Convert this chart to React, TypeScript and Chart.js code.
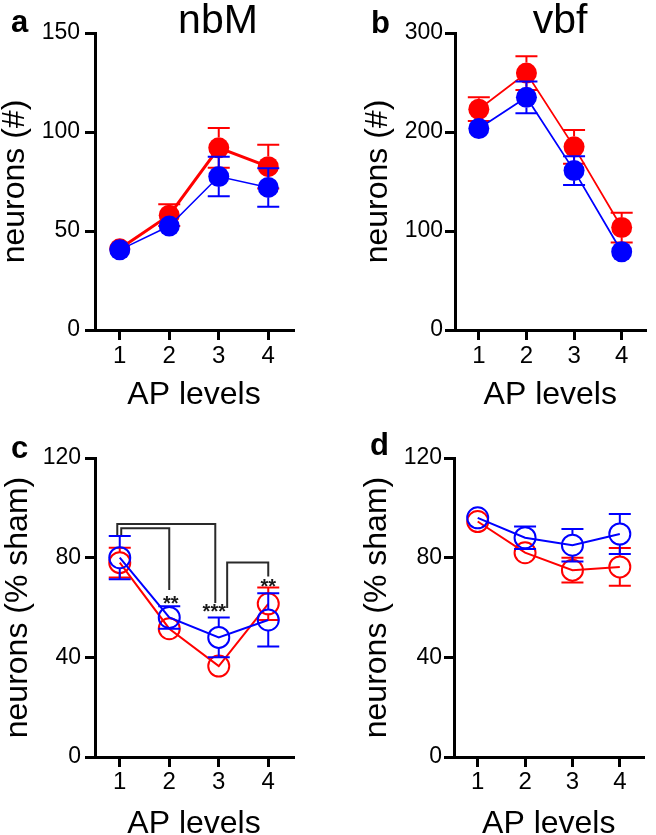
import React, { useEffect, useRef } from 'react';
import { Chart, registerables } from 'chart.js';

Chart.register(...registerables);

// ---------- data ----------
const apLevels = [1, 2, 3, 4];

// panel a: nbM, neuron counts
const nbmRed = [41, 58, 92, 82.5];
const nbmRedSem = [2, 5.5, 10, 11];
const nbmBlue = [40.5, 52.5, 77.5, 72];
const nbmBlueSem = [2, 3, 10, 9.7];

// panel b: vbf, neuron counts
const vbfRed = [223, 259.5, 185, 103.5];
const vbfRedSem = [12, 17, 17, 15];
const vbfBlue = [203.5, 235, 161, 79];
const vbfBlueSem = [4, 16, 14.5, 4];

// panel c: nbM, % sham
const nbmPctRed = [78, 51.5, 36.5, 61.5];
const nbmPctRedSem = [6, 3, 3, 6.5];
const nbmPctBlue = [80, 56, 48, 55];
const nbmPctBlueSem = [8.7, 4.5, 8, 10.7];

// panel d: vbf, % sham
const vbfPctRed = [94.5, 82, 75, 76.3];
const vbfPctRedSem = [2, 3, 5, 7.6];
const vbfPctBlue = [96, 88, 85, 89.5];
const vbfPctBlueSem = [2, 4.5, 6.5, 8];

// significance brackets for panel c (AP level, % sham)
const bracket13 = [[0.95, 89.1], [0.95, 93.5], [2.93, 93.5], [2.93, 61.8]];
const bracket12 = [[1.03, 89.1], [1.03, 91.8], [2.0, 91.8], [2.0, 67]];
const bracket34 = [[3.17, 59.8], [3.17, 78.1], [4.0, 78.1], [4.0, 72.4]];
const starLabels = ['**', '***', '**'];
const starX = [2.03, 2.91, 4.0];
const starY = [63.8, 60.3, 70.4];

// ---------- styles ----------
const FONT = '"Liberation Sans", Arial, Helvetica, sans-serif';
const RED = '#ff0000';
const BLUE = '#0000ff';

const errorBarPlugin = {
  id: 'errorBars',
  beforeDatasetDraw(chart: any, args: any) {
    const ds: any = chart.data.datasets[args.index];
    const errs = ds.errors;
    if (!errs) return;
    const yScale = chart.scales.y;
    const ctx = chart.ctx;
    const cap = 11;
    const gap = ds.pointRadius;
    ctx.save();
    ctx.strokeStyle = ds.borderColor;
    ctx.lineWidth = 2;
    args.meta.data.forEach((el: any, i: number) => {
      const v = ds.data[i].y;
      const e = errs[i];
      const x = el.x;
      const yc = yScale.getPixelForValue(v);
      const yt = yScale.getPixelForValue(v + e);
      const yb = yScale.getPixelForValue(v - e);
      ctx.beginPath();
      if (yc - yt > gap) {
        ctx.moveTo(x, yc - gap);
        ctx.lineTo(x, yt);
        ctx.moveTo(x - cap, yt);
        ctx.lineTo(x + cap, yt);
      }
      if (yb - yc > gap) {
        ctx.moveTo(x, yc + gap);
        ctx.lineTo(x, yb);
        ctx.moveTo(x - cap, yb);
        ctx.lineTo(x + cap, yb);
      }
      ctx.stroke();
    });
    ctx.restore();
  },
};

const sigPlugin = {
  id: 'sigMarks',
  afterDatasetsDraw(chart: any, _args: any, opts: any) {
    if (!opts || !opts.brackets) return;
    const xs = chart.scales.x;
    const ys = chart.scales.y;
    const ctx = chart.ctx;
    ctx.save();
    ctx.strokeStyle = '#2a2a2a';
    ctx.lineWidth = 2;
    opts.brackets.forEach((pts: number[][]) => {
      ctx.beginPath();
      pts.forEach((p, i) => {
        const px = xs.getPixelForValue(p[0]);
        const py = ys.getPixelForValue(p[1]);
        if (i === 0) ctx.moveTo(px, py);
        else ctx.lineTo(px, py);
      });
      ctx.stroke();
    });
    ctx.fillStyle = '#1a1a1a';
    ctx.font = `bold 20px ${FONT}`;
    ctx.textAlign = 'center';
    ctx.textBaseline = 'alphabetic';
    opts.labels.forEach((t: string, i: number) => {
      ctx.fillText(t, xs.getPixelForValue(opts.xs[i]), ys.getPixelForValue(opts.ys[i]) + 11.5);
    });
    ctx.restore();
  },
};

const labelPlugin = {
  id: 'panelLabels',
  afterDraw(chart: any, _args: any, opts: any) {
    const ctx = chart.ctx;
    ctx.save();
    ctx.fillStyle = '#000';
    ctx.textBaseline = 'alphabetic';
    ctx.textAlign = 'left';
    ctx.font = `bold 31px ${FONT}`;
    ctx.fillText(opts.letter, opts.letterX, opts.letterY);
    if (opts.title) {
      ctx.textAlign = 'center';
      ctx.font = `41px ${FONT}`;
      ctx.fillText(opts.title, opts.titleX, opts.titleY);
    }
    ctx.restore();
  },
};

function series(values: number[], errs: number[], color: string, lineW: number, filled: boolean) {
  return {
    data: apLevels.map((x, i) => ({ x, y: values[i] })),
    errors: errs,
    borderColor: color,
    backgroundColor: color,
    borderWidth: lineW,
    pointRadius: filled ? 10.5 : 10.5,
    pointHoverRadius: 10.5,
    pointBackgroundColor: filled ? color : 'rgba(0,0,0,0)',
    pointBorderColor: color,
    pointBorderWidth: filled ? 0 : 2,
    tension: 0,
    fill: false,
  };
}

function buildConfig(p: any): any {
  return {
    type: 'line',
    data: {
      datasets: [
        series(p.blue, p.blueErr, BLUE, p.blueLine, p.filled),
        series(p.red, p.redErr, RED, p.redLine, p.filled),
      ],
    },
    options: {
      responsive: false,
      animation: false,
      devicePixelRatio: 1,
      events: [],
      layout: { padding: { left: 0, top: p.padTop, right: p.padRight, bottom: 0 } },
      plugins: {
        legend: { display: false },
        tooltip: { enabled: false },
        panelLabels: p.labels,
        sigMarks: p.sig || {},
      },
      scales: {
        x: {
          type: 'linear',
          min: 0.5,
          max: 4.5,
          afterBuildTicks: (s: any) => {
            s.ticks = apLevels.map((v) => ({ value: v }));
          },
          afterFit: (s: any) => {
            s.height = p.xAxisH;
          },
          grid: { drawOnChartArea: false, drawTicks: true, tickLength: 10, color: '#000', lineWidth: 3 },
          border: { display: true, color: '#000', width: 3 },
          ticks: { font: { family: FONT, size: 24 }, color: '#000', padding: p.xTickPad, maxRotation: 0, autoSkip: false },
          title: {
            display: true,
            text: 'AP levels',
            color: '#000',
            font: { family: FONT, size: 32, lineHeight: 1 },
            padding: { top: 0, bottom: p.xTitlePad },
          },
        },
        y: {
          min: 0,
          max: p.yMax,
          afterFit: (s: any) => {
            s.width = p.yAxisW;
          },
          grid: { drawOnChartArea: false, drawTicks: true, tickLength: 10, color: '#000', lineWidth: 3 },
          border: { display: true, color: '#000', width: 3 },
          ticks: { stepSize: p.yStep, font: { family: FONT, size: 23 }, color: '#000', padding: p.yTickPad },
          title: {
            display: true,
            text: p.yTitle,
            color: '#000',
            font: { family: FONT, size: 32, lineHeight: 1 },
            padding: { top: p.yTitlePad, bottom: 0 },
          },
        },
      },
    },
    plugins: [errorBarPlugin, sigPlugin, labelPlugin],
  };
}

const panels: any[] = [
  {
    key: 'a', left: 0, top: 0, w: 328, h: 420, padTop: 33, padRight: 35, yAxisW: 95, xAxisH: 90,
    red: nbmRed, redErr: nbmRedSem, blue: nbmBlue, blueErr: nbmBlueSem, redLine: 3, blueLine: 1.5, filled: true,
    yMax: 150, yStep: 50, yTitle: 'neurons (#)', yTickPad: 5, yTitlePad: -1.3, xTickPad: 2, xTitlePad: 8.4,
    labels: { letter: 'a', letterX: 11, letterY: 32, title: 'nbM', titleX: 218, titleY: 33.3 },
  },
  {
    key: 'b', left: 363, top: 0, w: 293, h: 420, padTop: 33, padRight: 3, yAxisW: 92, xAxisH: 90,
    red: vbfRed, redErr: vbfRedSem, blue: vbfBlue, blueErr: vbfBlueSem, redLine: 1.8, blueLine: 1.8, filled: true,
    yMax: 300, yStep: 100, yTitle: 'neurons (#)', yTickPad: 2, yTitlePad: -1.3, xTickPad: 2, xTitlePad: 8.4,
    labels: { letter: 'b', letterX: 8, letterY: 33.3, title: 'vbf', titleX: 197, titleY: 33.3 },
  },
  {
    key: 'c', left: 0, top: 420, w: 328, h: 415, padTop: 38, padRight: 35, yAxisW: 95, xAxisH: 78,
    red: nbmPctRed, redErr: nbmPctRedSem, blue: nbmPctBlue, blueErr: nbmPctBlueSem, redLine: 2, blueLine: 2, filled: false,
    yMax: 120, yStep: 40, yTitle: 'neurons (% sham)', yTickPad: 4, yTitlePad: 2, xTickPad: 1, xTitlePad: -4.9,
    labels: { letter: 'c', letterX: 11, letterY: 38.3 },
    sig: { brackets: [bracket13, bracket12, bracket34], labels: starLabels, xs: starX, ys: starY },
  },
  {
    key: 'd', left: 363, top: 420, w: 293, h: 415, padTop: 38, padRight: 3, yAxisW: 91, xAxisH: 78,
    red: vbfPctRed, redErr: vbfPctRedSem, blue: vbfPctBlue, blueErr: vbfPctBlueSem, redLine: 2, blueLine: 2, filled: false,
    yMax: 120, yStep: 40, yTitle: 'neurons (% sham)', yTickPad: 2, yTitlePad: -1.8, xTickPad: 1, xTitlePad: -4.9,
    labels: { letter: 'd', letterX: 7, letterY: 35 },
  },
];

function Panel({ spec }: { spec: any }) {
  const ref = useRef<HTMLCanvasElement | null>(null);
  useEffect(() => {
    if (!ref.current) return;
    const chart = new Chart(ref.current, buildConfig(spec));
    return () => chart.destroy();
  }, [spec]);
  return (
    <canvas
      ref={ref}
      width={spec.w}
      height={spec.h}
      style={{ position: 'absolute', left: spec.left, top: spec.top, width: spec.w, height: spec.h }}
    />
  );
}

export default function App() {
  return (
    <div style={{ position: 'absolute', left: 0, top: 0, width: 656, height: 835, background: '#fff', overflow: 'hidden' }}>
      {panels.map((p) => (
        <Panel key={p.key} spec={p} />
      ))}
    </div>
  );
}
